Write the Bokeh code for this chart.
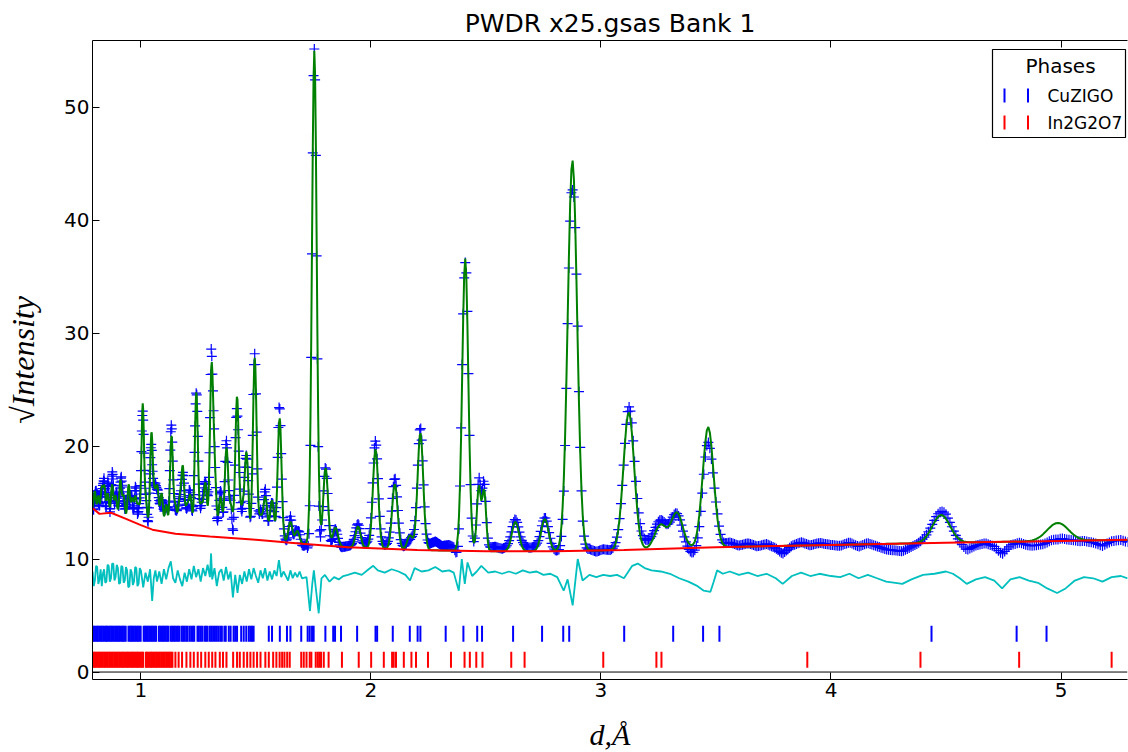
import numpy as np
from bokeh.plotting import figure
from bokeh.models import Range1d, LinearAxis, FixedTicker, Label, BoxAnnotation, Span
from bokeh.embed import file_html
from bokeh.resources import INLINE

# ---------------- data ----------------
title_text = "PWDR x25.gsas Bank 1"
phase_names = ["CuZIGO", "In2G2O7"]
x_ticks = [1, 2, 3, 4, 5]
y_ticks = [0, 10, 20, 30, 40, 50]

# calculated-profile peaks: position (d), top value, full width at half max
peak_d = [0.800, 0.815, 0.830, 0.841, 0.856, 0.875, 0.890, 0.911, 0.925, 0.947,
          0.962, 0.976, 0.990, 1.008, 1.022, 1.046, 1.060, 1.072, 1.090, 1.110,
          1.133, 1.150, 1.168, 1.182, 1.200, 1.215, 1.241, 1.262, 1.280, 1.307,
          1.321, 1.346, 1.372, 1.392, 1.418, 1.440, 1.459, 1.495, 1.520, 1.541,
          1.570, 1.603, 1.650, 1.680, 1.754, 1.803, 1.846, 1.944, 2.020, 2.104,
          2.170, 2.215, 2.410, 2.469, 2.492, 2.628, 2.756, 2.876, 3.121, 3.259,
          3.330, 3.466, 4.479, 4.986]
peak_top = [16.0, 15.6, 16.3, 16.4, 15.8, 16.6, 15.6, 17.0, 15.6, 16.6,
            15.3, 15.5, 14.8, 23.7, 15.0, 21.1, 15.3, 16.1, 15.8, 14.8,
            20.9, 14.6, 15.0, 18.0, 14.5, 15.5, 24.8, 14.7, 16.7, 26.6,
            17.0, 15.5, 19.8, 14.5, 24.4, 14.2, 19.4, 27.8, 13.6, 15.5,
            15.2, 22.5, 13.3, 12.5, 55.0, 18.1, 12.8, 12.9, 19.75, 16.65,
            12.1, 21.2, 36.6, 16.4, 16.1, 13.3, 13.55, 45.3, 23.0, 13.0,
            14.1, 21.7, 13.9, 13.2]
peak_fwhm = [0.010, 0.010, 0.011, 0.011, 0.011, 0.011, 0.012, 0.012, 0.012, 0.012,
             0.012, 0.013, 0.013, 0.013, 0.013, 0.014, 0.014, 0.014, 0.014, 0.014,
             0.015, 0.015, 0.015, 0.015, 0.016, 0.016, 0.016, 0.016, 0.017, 0.017,
             0.017, 0.017, 0.018, 0.018, 0.018, 0.018, 0.019, 0.019, 0.019, 0.020,
             0.020, 0.020, 0.021, 0.021, 0.024, 0.024, 0.025, 0.026, 0.027, 0.028,
             0.028, 0.029, 0.031, 0.020, 0.020, 0.036, 0.038, 0.048, 0.055, 0.060,
             0.060, 0.056, 0.090, 0.110]

# background (red) knots
bkg_d = [0.79, 0.82, 0.87, 0.93, 1.00, 1.05, 1.15, 1.30, 1.50, 1.70, 1.90, 2.20,
         2.50, 2.80, 3.10, 3.50, 4.00, 4.50, 5.00, 5.29]
bkg_v = [14.5, 14.0, 14.1, 13.6, 13.0, 12.6, 12.25, 12.0, 11.7, 11.35, 11.05, 10.8,
         10.7, 10.7, 10.8, 11.05, 11.25, 11.45, 11.6, 11.7]

# difference curve (cyan), drawn with its offset
diff_offset = 8.5
diff_d = [0.79, 0.795, 0.80, 0.805, 0.81, 0.815, 0.82, 0.825, 0.83, 0.835, 0.84, 0.845,
          0.85, 0.855, 0.86, 0.865, 0.87, 0.875, 0.88, 0.885, 0.89, 0.895, 0.90, 0.905,
          0.91, 0.915, 0.92, 0.925, 0.93, 0.935, 0.94, 0.945, 0.95, 0.955, 0.96, 0.965,
          0.97, 0.975, 0.98, 0.985, 0.99, 0.995, 1.00, 1.01, 1.02,
          1.03, 1.04, 1.049, 1.056, 1.063, 1.07, 1.08, 1.09, 1.10, 1.11, 1.12, 1.13,
          1.14, 1.15, 1.16, 1.17, 1.18, 1.19, 1.20, 1.21, 1.22, 1.23, 1.24, 1.25,
          1.26, 1.27, 1.28, 1.29, 1.30, 1.305, 1.31, 1.32, 1.33, 1.34, 1.35, 1.36,
          1.37, 1.38, 1.39, 1.40, 1.41, 1.42, 1.43, 1.44, 1.45, 1.46, 1.47, 1.48,
          1.49, 1.50, 1.51, 1.52, 1.53, 1.54, 1.55, 1.56, 1.57, 1.58, 1.59, 1.60,
          1.61, 1.62, 1.63, 1.64, 1.65, 1.66, 1.67, 1.68, 1.69, 1.70, 1.72, 1.735,
          1.745, 1.752, 1.760, 1.773, 1.785, 1.80, 1.82, 1.84, 1.86, 1.88, 1.90, 1.93,
          1.96, 1.99, 2.01, 2.03, 2.06, 2.09, 2.12, 2.15, 2.17, 2.19, 2.22, 2.25,
          2.28, 2.31, 2.34, 2.36, 2.382, 2.395, 2.408, 2.42, 2.44, 2.46, 2.48, 2.51,
          2.54, 2.57, 2.60, 2.63, 2.66, 2.69, 2.72, 2.75, 2.78, 2.81, 2.838, 2.855,
          2.877, 2.899, 2.92, 2.95, 2.98, 3.01, 3.04, 3.07, 3.10, 3.136, 3.16, 3.19,
          3.22, 3.26, 3.30, 3.34, 3.38, 3.42, 3.447, 3.476, 3.49, 3.505, 3.53, 3.56,
          3.60, 3.64, 3.68, 3.72, 3.76, 3.79, 3.83, 3.87, 3.91, 3.95, 4.00, 4.04,
          4.08, 4.12, 4.16, 4.20, 4.24, 4.28, 4.31, 4.35, 4.40, 4.45, 4.50, 4.53,
          4.56, 4.59, 4.63, 4.67, 4.71, 4.744, 4.78, 4.82, 4.86, 4.90, 4.94, 4.983,
          5.02, 5.06, 5.10, 5.14, 5.18, 5.22, 5.26, 5.29]
diff_v = [8.9, 7.6, 8.1, 9.4, 9.3, 7.8, 8.2, 9.1, 7.6, 8.7, 9.1, 7.9,
          8.0, 9.5, 9.4, 8.0, 8.3, 9.6, 9.6, 8.1, 8.4, 9.5, 9.2, 7.8,
          7.9, 9.4, 9.3, 7.9, 8.1, 9.3, 9.0, 7.5, 7.6, 9.1, 8.8, 7.7,
          8.0, 9.3, 9.2, 7.6, 7.8, 9.2, 9.0, 7.5, 8.8,
          8.0, 9.1, 6.3, 8.3, 9.0, 8.0, 8.9, 7.8, 9.1, 8.2, 9.2, 9.8,
          8.3, 7.9, 9.0, 8.2, 7.6, 8.8, 8.0, 9.1, 8.2, 9.4, 8.4, 9.1,
          8.0, 9.2, 8.5, 9.5, 8.4, 10.5, 8.2, 9.2, 7.6, 8.8, 9.1, 8.1,
          9.3, 8.2, 8.9, 6.6, 8.6, 7.0, 8.6, 7.8, 8.9, 8.0, 9.1, 8.2,
          9.2, 8.5, 7.9, 9.0, 8.3, 9.2, 8.1, 8.9, 8.2, 9.0, 8.5, 9.9,
          8.4, 8.9, 8.5, 8.1, 9.0, 8.3, 8.8, 8.4, 8.9, 8.3, 8.4, 5.4,
          7.8, 9.0, 7.5, 5.2, 8.3, 8.6, 8.0, 8.4, 8.2, 8.5, 8.6, 8.8,
          8.6, 9.1, 9.4, 9.0, 8.8, 9.1, 8.9, 8.6, 8.1, 9.2, 8.9, 9.0,
          9.3, 8.9, 9.0, 8.8, 7.2, 10.0, 7.8, 9.7, 8.5, 8.9, 9.4, 8.8,
          8.9, 8.7, 8.9, 8.7, 9.0, 8.8, 8.9, 8.6, 8.7, 8.4, 7.2, 8.2,
          5.9, 10.0, 8.1, 8.6, 8.4, 8.6, 8.5, 8.6, 8.3, 9.4, 9.6, 9.2,
          9.0, 8.9, 8.7, 8.3, 8.0, 7.6, 7.2, 7.1, 8.0, 9.0, 8.7, 8.9,
          8.6, 8.8, 8.5, 8.7, 8.3, 7.8, 8.5, 8.8, 8.5, 8.7, 8.5, 8.4,
          8.7, 8.3, 8.6, 8.3, 8.0, 7.9, 7.8, 8.2, 8.6, 8.7, 8.9, 8.7,
          8.3, 7.8, 8.2, 8.4, 8.1, 7.4, 8.2, 8.4, 8.1, 7.9, 7.4, 7.0,
          7.4, 8.1, 8.4, 8.3, 8.0, 8.4, 8.5, 8.3]

# reflection tick positions (d) for each phase
ticks_cuzigo = [0.790, 0.796, 0.802, 0.808, 0.813, 0.819, 0.825, 0.830, 0.836, 0.842,
                0.848, 0.853, 0.859, 0.865, 0.871, 0.876, 0.882, 0.888, 0.894, 0.899,
                0.905, 0.911, 0.917, 0.922, 0.928, 0.934, 0.946, 0.952, 0.958, 0.963,
                0.969, 0.975, 0.981, 0.987, 0.993, 0.999, 1.012, 1.018, 1.024, 1.030,
                1.036, 1.042, 1.048, 1.054, 1.060, 1.066, 1.078, 1.084, 1.090, 1.096,
                1.102, 1.108, 1.114, 1.120, 1.130, 1.136, 1.142, 1.148, 1.155, 1.161,
                1.168, 1.178, 1.184, 1.190, 1.197, 1.203, 1.212, 1.219, 1.226, 1.232,
                1.246, 1.252, 1.259, 1.266, 1.276, 1.283, 1.290, 1.300, 1.307, 1.314,
                1.322, 1.330, 1.337, 1.345, 1.352, 1.363, 1.369, 1.382, 1.390, 1.403,
                1.410, 1.418, 1.436, 1.447, 1.458, 1.469, 1.476, 1.483, 1.490, 1.556,
                1.570, 1.604, 1.635, 1.650, 1.697, 1.725, 1.734, 1.744, 1.751, 1.802,
                1.836, 1.844, 1.870, 1.940, 2.020, 2.027, 2.095, 2.169, 2.203, 2.215,
                2.325, 2.402, 2.462, 2.483, 2.618, 2.744, 2.836, 2.862, 3.101, 3.314,
                3.444, 3.515, 4.437, 4.807, 4.937]
ticks_in2g2o7 = [0.790, 0.796, 0.801, 0.807, 0.812, 0.818, 0.823, 0.829, 0.834, 0.840,
                 0.845, 0.851, 0.856, 0.862, 0.867, 0.873, 0.878, 0.884, 0.889, 0.895,
                 0.900, 0.906, 0.911, 0.917, 0.922, 0.928, 0.933, 0.939, 0.944, 0.950,
                 0.955, 0.961, 0.966, 0.972, 0.977, 0.983, 0.988, 0.994, 0.999, 1.005,
                 1.010, 1.022, 1.027, 1.033, 1.038, 1.044, 1.049, 1.055, 1.060, 1.066,
                 1.071, 1.077, 1.082, 1.088, 1.093, 1.099, 1.104, 1.110, 1.115, 1.121,
                 1.126, 1.132, 1.137, 1.150, 1.164, 1.179, 1.198, 1.215, 1.230, 1.247,
                 1.262, 1.280, 1.295, 1.310, 1.324, 1.343, 1.357, 1.372, 1.401, 1.418,
                 1.430, 1.447, 1.462, 1.476, 1.490, 1.505, 1.520, 1.541, 1.556, 1.575,
                 1.589, 1.603, 1.614, 1.624, 1.636, 1.647, 1.697, 1.708, 1.720, 1.734,
                 1.741, 1.760, 1.769, 1.776, 1.783, 1.795, 1.816, 1.874, 1.947, 2.001,
                 2.056, 2.092, 2.099, 2.109, 2.143, 2.176, 2.196, 2.248, 2.348, 2.407,
                 2.430, 2.458, 2.485, 2.610, 2.668, 3.010, 3.241, 3.263, 3.897, 4.389,
                 4.818, 5.220]
tick_rows = [3.4, 1.08]      # vertical centre of each phase's tick row

# ---------------- profile model built from the read values ----------------
d_grid = np.geomspace(0.79, 5.29, 1000)
bkg_grid = np.interp(d_grid, bkg_d, bkg_v)
calc = bkg_grid.copy()
for pd_, top, fw in zip(peak_d, peak_top, peak_fwhm):
    amp = top - np.interp(pd_, bkg_d, bkg_v)
    calc += amp * np.exp(-4 * np.log(2) * ((d_grid - pd_) / fw) ** 2)
diff_grid = np.interp(d_grid, diff_d, diff_v)
obs = calc + diff_grid - diff_offset

# ---------------- figure ----------------
FONT = "DejaVu Sans"
p = figure(frame_width=1035, frame_height=639,
           x_range=Range1d(0.7896, 5.289), y_range=Range1d(-0.66, 55.9),
           output_backend="svg", toolbar_location=None,
           min_border_left=92, min_border_right=1, min_border_top=40,
           min_border_bottom=73, title=title_text)
p.outline_line_color = None
p.grid.visible = False
p.background_fill_color = "white"
p.border_fill_color = "white"

p.title.text_font = FONT
p.title.text_font_size = "25px"
p.title.text_font_style = "normal"
p.title.text_color = "black"
p.title.align = "center"
p.title.offset = 5
p.title.standoff = 6

for ax in (p.xaxis[0], p.yaxis[0]):
    ax.major_tick_in = 7
    ax.major_tick_out = 0
    ax.minor_tick_line_color = None
    ax.major_label_text_font = FONT
    ax.major_label_text_font_size = "20px"
    ax.major_label_text_color = "black"
    ax.axis_line_color = "black"
    ax.major_tick_line_color = "black"
    ax.axis_label_text_font = "Liberation Serif"
    ax.axis_label_text_font_style = "italic"
    ax.axis_label_text_color = "black"

p.xaxis.ticker = FixedTicker(ticks=x_ticks)
p.yaxis.ticker = FixedTicker(ticks=y_ticks)
p.xaxis.axis_label = "d,Å"
p.xaxis.axis_label_text_font_size = "30px"
p.xaxis.major_label_standoff = 3
p.xaxis.axis_label_standoff = 18
p.yaxis.axis_label = "√Intensity"
p.yaxis.axis_label_text_font_size = "32px"
p.yaxis.major_label_standoff = 3
p.yaxis.axis_label_standoff = 20

# top spine with inward ticks (no labels drawn)
top_axis = LinearAxis(ticker=FixedTicker(ticks=x_ticks), major_tick_in=7, major_tick_out=0,
                      minor_tick_line_color=None, major_label_text_font_size="0px",
                      major_label_text_color=None, major_label_text_alpha=0,
                      major_label_standoff=0, axis_line_color="black")
p.add_layout(top_axis, "above")

# zero line
p.add_layout(Span(location=0, dimension="width", line_color="black", line_width=1))

# observed (+), calculated, background, difference
p.scatter(d_grid, obs, marker="cross", size=10, line_color="blue", line_width=1.2)
p.line(d_grid, calc, line_color="#008000", line_width=2)
p.line(bkg_d, bkg_v, line_color="red", line_width=2)
p.line(diff_d, diff_v, line_color="#00BFBF", line_width=1.8)

# reflection ticks
p.scatter(ticks_cuzigo, [tick_rows[0]] * len(ticks_cuzigo), marker="dash", angle=np.pi / 2,
          size=16, line_color="blue", line_width=2)
p.scatter(ticks_in2g2o7, [tick_rows[1]] * len(ticks_in2g2o7), marker="dash", angle=np.pi / 2,
          size=16, line_color="red", line_width=2)

# legend (frame-relative screen units)
p.add_layout(BoxAnnotation(left=900, right=1033, top=630, bottom=542,
                           left_units="screen", right_units="screen",
                           top_units="screen", bottom_units="screen",
                           fill_color="white", fill_alpha=1.0,
                           line_color="black", line_width=1.2, line_alpha=1.0))
p.add_layout(Label(x=968, y=614, x_units="screen", y_units="screen", text="Phases",
                   text_font=FONT, text_font_size="20px", text_align="center",
                   text_baseline="middle", text_color="black"))
for row_y, name, col in zip([584, 557], phase_names, ["blue", "red"]):
    for tx in (912, 935.5):
        p.add_layout(BoxAnnotation(left=tx - 1, right=tx + 1, top=row_y + 7, bottom=row_y - 7,
                                   left_units="screen", right_units="screen",
                                   top_units="screen", bottom_units="screen",
                                   fill_color=col, fill_alpha=1.0, line_color=None))
    p.add_layout(Label(x=955, y=row_y, x_units="screen", y_units="screen", text=name,
                       text_font=FONT, text_font_size="17px", text_align="left",
                       text_baseline="middle", text_color="black"))

open("out.html", "w").write(file_html(p, INLINE))
